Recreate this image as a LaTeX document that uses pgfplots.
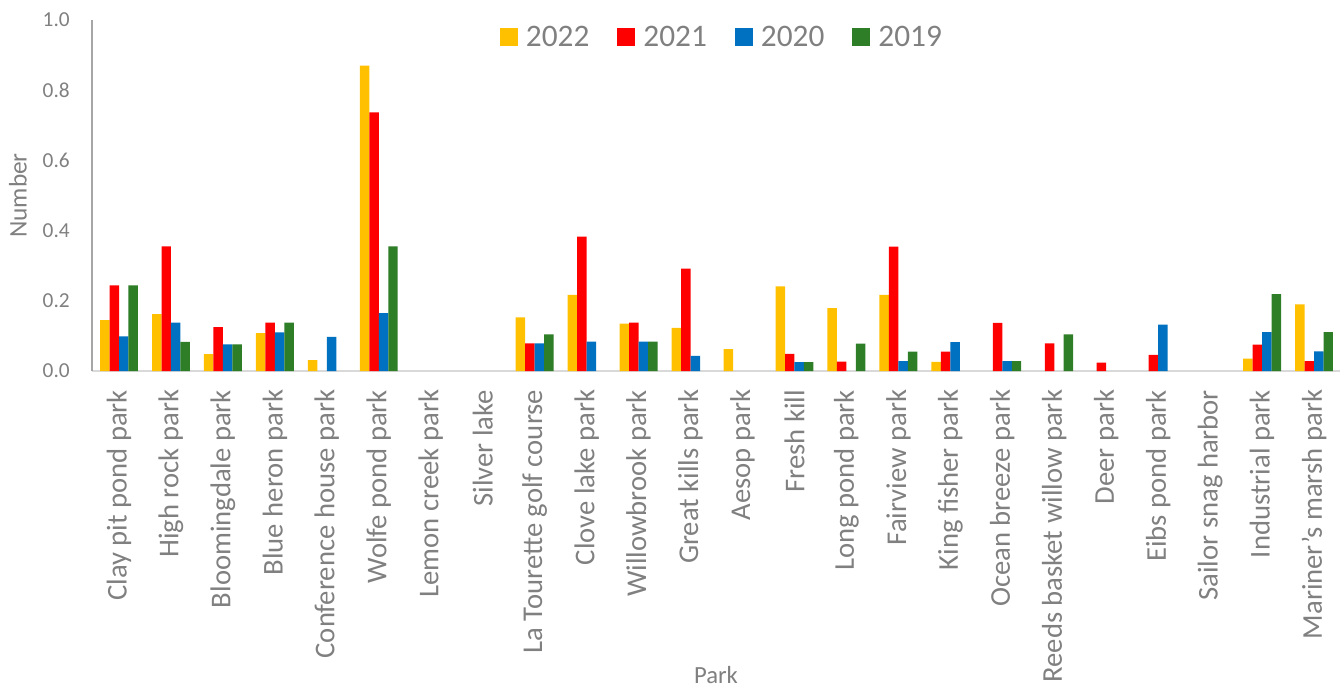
\documentclass[border=0pt]{standalone}
\usepackage{fontspec}
\setmainfont{Carlito}
\usepackage{pgfplots}
\pgfplotsset{compat=1.18}
\definecolor{c22}{RGB}{255,192,0}
\definecolor{c21}{RGB}{255,0,0}
\definecolor{c20}{RGB}{0,112,192}
\definecolor{c19}{RGB}{46,125,39}
\definecolor{txt}{RGB}{128,128,128}
\begin{document}
\begin{tikzpicture}
\useasboundingbox (0pt,0pt) rectangle (1008pt,516.75pt);
\begin{axis}[
  at={(69pt,238.5pt)}, anchor=south west,
  width=936pt, height=263.25pt, scale only axis,
  ybar=0pt, bar width=7.1pt,
  legend image code/.code={\fill[#1,draw=none] (0pt,-6.75pt) rectangle (13.5pt,6.75pt);},
  xmin=-0.52, xmax=23.5, ymin=0, ymax=1,
  axis x line*=bottom, axis y line*=left,
  x axis line style={draw={rgb,255:red,217;green,217;blue,217}, line width=1pt, -},
  y axis line style={draw={rgb,255:red,166;green,166;blue,166}, line width=0.8pt, -},
  major tick length=0pt,
  ytick={0,0.2,0.4,0.6,0.8,1.0},
  y tick label style={/pgf/number format/fixed, /pgf/number format/fixed zerofill, /pgf/number format/precision=1, /pgf/number format/assume math mode=true, anchor=east, inner sep=0pt, font=\fontsize{16}{16}\selectfont, text=txt},
  yticklabel shift=16.5pt,
  xtick={0,...,23},
  xticklabels={Clay pit pond park, High rock park, Bloomingdale park, Blue heron park, Conference house park, Wolfe pond park, Lemon creek park, Silver lake, La Tourette golf course, Clove lake park, Willowbrook park, Great kills park, Aesop park, Fresh kill, Long pond park, Fairview park, King fisher park, Ocean breeze park, Reeds basket willow park, Deer park, Eibs pond park, Sailor snag harbor, Industrial park, Mariner's marsh park},
  x tick label style={rotate=90, anchor=east, inner sep=0pt, font=\fontsize{21.5}{21.5}\selectfont, text=txt},
  xticklabel shift=14pt,
  xlabel={Park}, ylabel={Number},
  every axis x label/.style={at={(axis description cs:0.5,-0.866)}, anchor=center, font=\fontsize{18.5}{18.5}\selectfont, text=txt},
  every axis y label/.style={at={(axis description cs:-0.0593,0.5)}, rotate=90, anchor=center, font=\fontsize{19}{19}\selectfont, text=txt},
  legend columns=4,
  legend style={at={(0.505,0.952)}, anchor=center, draw=none, fill=none,
    font=\fontsize{23.5}{23.5}\selectfont, text=txt,
    /tikz/every odd column/.append style={column sep=4pt},
    /tikz/every even column/.append style={column sep=19pt}},
]
\addplot[fill=c22, draw=none] coordinates {(0,0.145) (1,0.162) (2,0.048) (3,0.108) (4,0.031) (5,0.870) (8,0.153) (9,0.217) (10,0.135) (11,0.123) (12,0.062) (13,0.241) (14,0.179) (15,0.217) (16,0.026) (22,0.035) (23,0.190)};
\addplot[fill=c21, draw=none] coordinates {(0,0.244) (1,0.355) (2,0.125) (3,0.138) (5,0.737) (8,0.079) (9,0.383) (10,0.138) (11,0.292) (13,0.049) (14,0.027) (15,0.354) (16,0.055) (17,0.137) (18,0.079) (19,0.024) (20,0.046) (22,0.075) (23,0.028)};
\addplot[fill=c20, draw=none] coordinates {(0,0.099) (1,0.138) (2,0.076) (3,0.110) (4,0.097) (5,0.165) (8,0.079) (9,0.084) (10,0.084) (11,0.043) (13,0.025) (15,0.028) (16,0.082) (17,0.028) (20,0.132) (22,0.111) (23,0.056)};
\addplot[fill=c19, draw=none] coordinates {(0,0.244) (1,0.083) (2,0.076) (3,0.138) (5,0.355) (8,0.104) (10,0.084) (13,0.025) (14,0.078) (15,0.055) (17,0.028) (18,0.104) (22,0.219) (23,0.111)};
\legend{2022,2021,2020,2019}
\end{axis}
\end{tikzpicture}
\end{document}
